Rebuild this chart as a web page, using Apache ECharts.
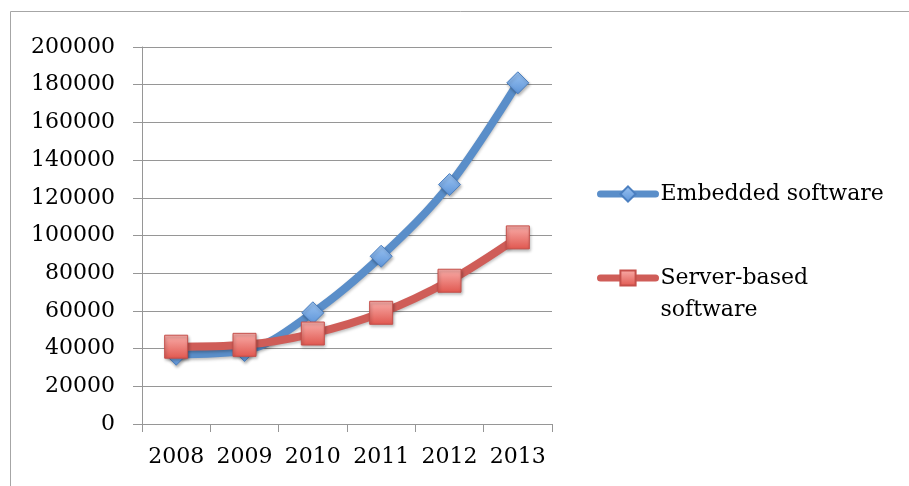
<!DOCTYPE html>
<html>
<head>
<meta charset="utf-8">
<script src="https://cdn.jsdelivr.net/npm/echarts@6/dist/echarts.min.js"></script>
<style>
  html, body { margin: 0; padding: 0; background: #fff; }
  #chart { width: 909px; height: 486px; }
</style>
</head>
<body>
<div id="chart"></div>
<script>
// Yearly figures for the two software categories
const years = ['2008', '2009', '2010', '2011', '2012', '2013'];
const embeddedSoftware = [37000, 39000, 59000, 89000, 127000, 181000];
const serverBasedSoftware = [41000, 42000, 48000, 59000, 76000, 99000];
const yTicks = { min: 0, max: 200000, step: 20000 };

const FONT = 'DejaVu Serif';
const GRID_GRAY = '#969696';

function vGrad(top, bottom) {
  return {
    type: 'linear', x: 0, y: 0, x2: 0, y2: 1,
    colorStops: [{ offset: 0, color: top }, { offset: 1, color: bottom }]
  };
}

const chart = echarts.init(document.getElementById('chart'), null, { renderer: 'canvas' });

chart.setOption({
  animation: false,
  backgroundColor: '#ffffff',
  graphic: [{
    type: 'rect',
    silent: true,
    shape: { x: 10.5, y: 11.5, width: 1000, height: 600 },
    style: { fill: 'none', stroke: '#a6a6a6', lineWidth: 1 }
  }],
  grid: { left: 142, right: 357, top: 47, bottom: 62 },
  legend: {
    orient: 'vertical',
    left: 597,
    top: 178,
    padding: 0,
    itemWidth: 55,
    itemHeight: 19,
    itemGap: 20,
    lineStyle: { width: 7, cap: 'round' },
    textStyle: {
      fontFamily: FONT, fontSize: 22, color: '#000', lineHeight: 32,
      rich: { gap: { lineHeight: 32, fontSize: 22, fontFamily: FONT } }
    },
    data: ['Embedded software', 'Server-based software'],
    // the second name wraps; an empty first row keeps its first line level with the icon
    formatter: function (name) {
      return name === 'Server-based software' ? '{gap| }\nServer-based\nsoftware' : name;
    }
  },
  xAxis: {
    type: 'category',
    data: years,
    boundaryGap: true,
    axisLine: { show: true, lineStyle: { color: GRID_GRAY, width: 1 } },
    axisTick: { show: true, interval: 0, length: 8, inside: false, lineStyle: { color: GRID_GRAY } },
    axisLabel: { interval: 0, fontFamily: FONT, fontSize: 22, color: '#000', margin: 22 },
    splitLine: { show: false }
  },
  yAxis: {
    type: 'value',
    min: yTicks.min,
    max: yTicks.max,
    interval: yTicks.step,
    axisLine: { show: true, lineStyle: { color: GRID_GRAY, width: 1 } },
    axisTick: { show: true, length: 9, lineStyle: { color: GRID_GRAY } },
    axisLabel: {
      fontFamily: FONT, fontSize: 22, color: '#000', margin: 27,
      formatter: function (v) { return String(v); }
    },
    splitLine: { show: true, lineStyle: { color: GRID_GRAY, width: 1 } }
  },
  series: [
    {
      name: 'Embedded software',
      type: 'line',
      data: embeddedSoftware,
      smooth: 0.35,
      z: 2,
      symbol: 'diamond',
      symbolSize: 22,
      lineStyle: {
        color: '#5a8ec9', width: 8, cap: 'round', join: 'round',
        shadowColor: 'rgba(0,0,0,0.25)', shadowBlur: 3, shadowOffsetY: 2
      },
      itemStyle: {
        color: vGrad('#9cc4f2', '#5d94d8'),
        borderColor: '#4b7fc0', borderWidth: 1,
        shadowColor: 'rgba(0,0,0,0.3)', shadowBlur: 3, shadowOffsetX: 1, shadowOffsetY: 2
      }
    },
    {
      name: 'Server-based software',
      type: 'line',
      data: serverBasedSoftware,
      smooth: 0.35,
      z: 3,
      symbol: 'rect',
      symbolSize: 23,
      lineStyle: {
        color: '#cf5d58', width: 8, cap: 'round', join: 'round',
        shadowColor: 'rgba(0,0,0,0.25)', shadowBlur: 3, shadowOffsetY: 2
      },
      itemStyle: {
        color: vGrad('#f9aeaa', '#e0574f'),
        borderColor: '#c5504b', borderWidth: 1,
        shadowColor: 'rgba(0,0,0,0.3)', shadowBlur: 3, shadowOffsetX: 1, shadowOffsetY: 2
      }
    }
  ]
});
</script>
</body>
</html>
